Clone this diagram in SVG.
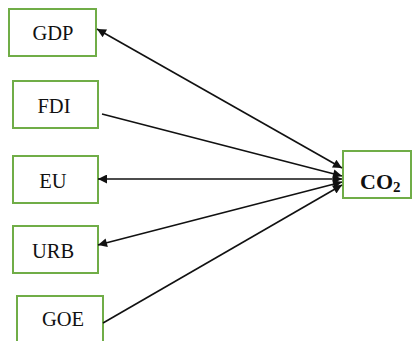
<svg xmlns="http://www.w3.org/2000/svg" width="413" height="341" viewBox="0 0 413 341">
<style>
.box{fill:#fff;stroke:#70ad47;stroke-width:2}
.lbl{font-family:"Liberation Serif","Times New Roman",serif;font-size:20.5px;fill:#111;text-anchor:middle}
.co{font-family:"Liberation Serif","Times New Roman",serif;font-size:22px;font-weight:bold;fill:#111}
.edge{stroke:#111;stroke-width:1.6;fill:none}
</style>
<defs>
<marker id="ah" viewBox="0 0 10 10" refX="10" refY="5" markerWidth="11" markerHeight="9" markerUnits="userSpaceOnUse" orient="auto-start-reverse">
<path d="M0,0 L10,5 L0,10 Z" fill="#111"/>
</marker>
</defs>
<rect width="413" height="341" fill="#fff"/>
<g id="GDP"><rect class="box" x="9" y="9" width="87" height="47"/><text class="lbl" x="53" y="40">GDP</text></g>
<g id="FDI"><rect class="box" x="13" y="81" width="85" height="47"/><text class="lbl" x="54" y="113">FDI</text></g>
<g id="EU"><rect class="box" x="13" y="156" width="85" height="47"/><text class="lbl" x="53" y="188">EU</text></g>
<g id="URB"><rect class="box" x="13" y="226" width="85" height="47"/><text class="lbl" x="53" y="258">URB</text></g>
<g id="GOE"><rect class="box" x="17" y="296" width="86" height="50"/><text class="lbl" x="63" y="326">GOE</text></g>
<g id="CO2"><rect class="box" x="343" y="151" width="68" height="47"/><text class="co" x="360" y="189">CO<tspan font-size="15" dy="3">2</tspan></text></g>
<g id="connectors">
<line class="edge" x1="97" y1="29" x2="342" y2="168" marker-start="url(#ah)" marker-end="url(#ah)"/>
<line class="edge" x1="102" y1="114" x2="342" y2="176" marker-end="url(#ah)"/>
<line class="edge" x1="98" y1="179" x2="342" y2="179" marker-start="url(#ah)" marker-end="url(#ah)"/>
<line class="edge" x1="98" y1="245" x2="342" y2="182" marker-start="url(#ah)" marker-end="url(#ah)"/>
<line class="edge" x1="103" y1="323" x2="342" y2="185" marker-end="url(#ah)"/>
</g>
</svg>
